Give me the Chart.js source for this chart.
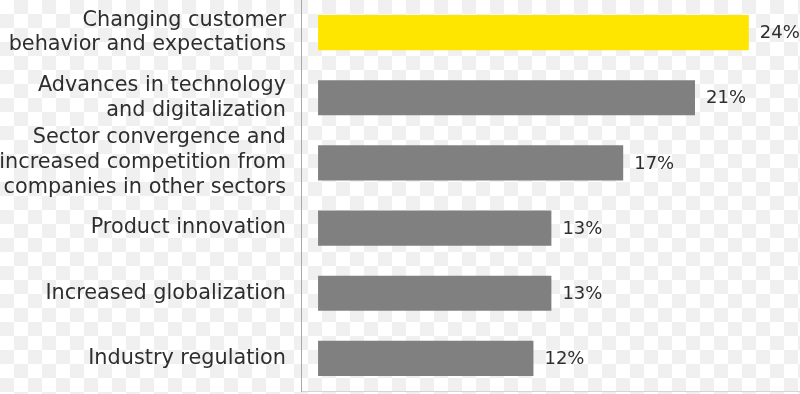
<!DOCTYPE html>
<html>
<head>
<meta charset="utf-8">
<script src="https://cdn.jsdelivr.net/npm/chart.js@4/dist/chart.umd.min.js"></script>
<style>
  html, body { margin: 0; padding: 0; }
  body {
    width: 800px; height: 394px; overflow: hidden;
    background-color: #ffffff;
    background-image:
      linear-gradient(45deg, #f0f0f0 25%, transparent 25%, transparent 75%, #f0f0f0 75%),
      linear-gradient(45deg, #f0f0f0 25%, transparent 25%, transparent 75%, #f0f0f0 75%);
    background-size: 28px 28px;
    background-position: 0 0, 14px 14px;
  }
  #wrap { position: relative; width: 800px; height: 394px; }
</style>
</head>
<body>
<div id="wrap"><canvas id="chart"></canvas></div>
<script>
// Categories (multi-line labels as drawn in the reference)
const categories = [
  ["Changing customer", "behavior and expectations"],
  ["Advances in technology", "and digitalization"],
  ["Sector convergence and", "increased competition from", "companies in other sectors"],
  ["Product innovation"],
  ["Increased globalization"],
  ["Industry regulation"],
];

// Share of respondents, %
const values = [24, 21, 17, 13, 13, 12];

const highlightIndex = 0;
const YELLOW = "#ffe600";
const GRAY = "#808080";
const TEXT = "#2e2e2e";

// Draws "24%" etc. just right of each bar end
const valueLabels = {
  id: "valueLabels",
  afterDatasetsDraw(chart) {
    const { ctx } = chart;
    const meta = chart.getDatasetMeta(0);
    ctx.save();
    ctx.font = "18px 'DejaVu Sans'";
    ctx.fillStyle = TEXT;
    ctx.textAlign = "left";
    ctx.textBaseline = "middle";
    meta.data.forEach((bar, i) => {
      ctx.fillText(values[i] + "%", bar.x + 11, bar.y + 1);
    });
    ctx.restore();
  },
};

new Chart(document.getElementById("chart"), {
  type: "bar",
  data: {
    labels: categories,
    datasets: [
      {
        data: values,
        backgroundColor: values.map((_, i) => (i === highlightIndex ? YELLOW : GRAY)),
        borderWidth: 0,
        categoryPercentage: 0.54,
        barPercentage: 1,
      },
    ],
  },
  options: {
    indexAxis: "y",
    responsive: true,
    maintainAspectRatio: false,
    animation: false,
    layout: { padding: { top: 0, bottom: 3, left: 0, right: 0 } },
    plugins: {
      legend: { display: false },
      tooltip: { enabled: false },
    },
    scales: {
      x: {
        min: -0.95,
        max: 26.85,
        display: true,
        grid: { display: false, drawTicks: false },
        ticks: { display: false },
        border: { display: true, color: "#d6d6d6", width: 1 },
      },
      y: {
        grid: { display: false, drawTicks: false },
        border: { display: true, color: "#a8a8a8", width: 1 },
        afterFit(scale) {
          scale.width = 301;
          scale.paddingTop = 0;
          scale.paddingBottom = 0;
        },
        ticks: {
          autoSkip: false,
          color: TEXT,
          padding: 15,
          font: { family: "DejaVu Sans", size: 20.8 },
          lineHeight: 1.2,
        },
      },
    },
  },
  plugins: [valueLabels],
});
</script>
</body>
</html>
